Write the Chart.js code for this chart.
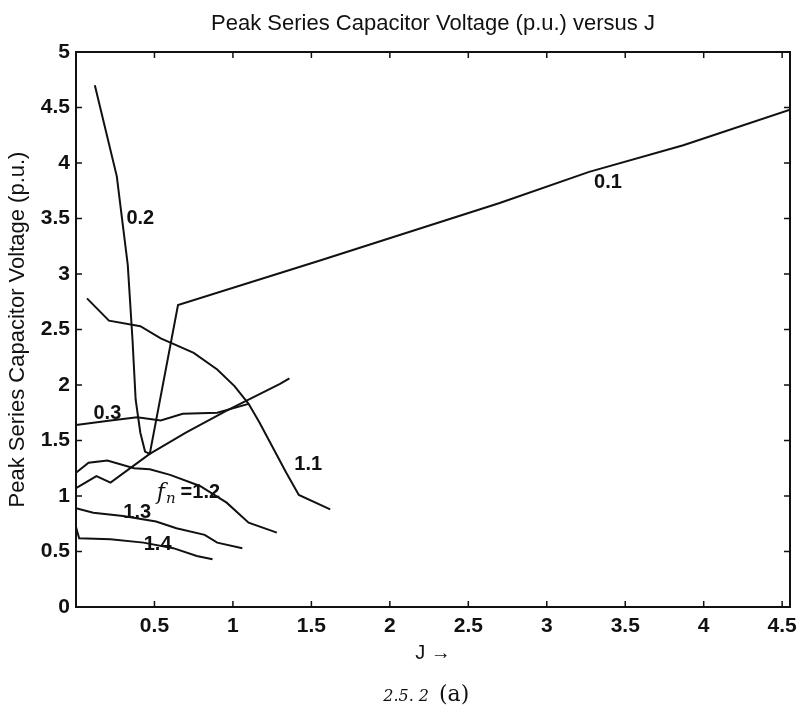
<!DOCTYPE html>
<html>
<head>
<meta charset="utf-8">
<title>Peak Series Capacitor Voltage versus J</title>
<script src="https://cdn.jsdelivr.net/npm/chart.js@4"></script>
<style>
  html, body { margin: 0; padding: 0; background: #fff; }
  canvas { display: block; }
</style>
</head>
<body>
<canvas id="capChart" width="805" height="721"></canvas>
<script>
/* Peak series capacitor voltage (p.u.) against J, one curve per fn */

// curve J / V values
const j01 = [0, 0.06, 0.13, 0.22, 0.47, 0.65, 1.55, 2.70, 3.27, 3.87, 4.55];
const v01 = [1.07, 1.12, 1.18, 1.12, 1.38, 2.72, 3.12, 3.64, 3.92, 4.16, 4.48];

const j02 = [0.12, 0.26, 0.33, 0.36, 0.38, 0.41, 0.44, 0.47, 0.70, 0.96, 1.30, 1.36];
const v02 = [4.70, 3.88, 3.08, 2.41, 1.87, 1.57, 1.40, 1.38, 1.57, 1.77, 2.01, 2.06];

const j03 = [0, 0.22, 0.39, 0.54, 0.68, 0.90, 1.10];
const v03 = [1.64, 1.68, 1.71, 1.68, 1.74, 1.75, 1.83];

const j11 = [0.07, 0.21, 0.41, 0.54, 0.62, 0.75, 0.90, 1.01, 1.10, 1.17, 1.34, 1.42, 1.62];
const v11 = [2.78, 2.58, 2.53, 2.42, 2.37, 2.29, 2.14, 1.99, 1.83, 1.66, 1.21, 1.01, 0.88];

const j12 = [0, 0.08, 0.20, 0.37, 0.47, 0.60, 0.79, 0.96, 1.10, 1.28];
const v12 = [1.21, 1.30, 1.32, 1.25, 1.24, 1.19, 1.09, 0.94, 0.76, 0.67];

const j13 = [0, 0.11, 0.30, 0.51, 0.64, 0.82, 0.90, 1.06];
const v13 = [0.89, 0.85, 0.82, 0.77, 0.71, 0.65, 0.58, 0.53];

const j14 = [0, 0.02, 0.22, 0.43, 0.62, 0.77, 0.87];
const v14 = [0.72, 0.62, 0.61, 0.58, 0.53, 0.46, 0.43];

// in-plot curve labels (text centred on J / V)
const curveNames = ['0.1', '0.2', '0.3', '1.1', '1.3', '1.4'];
const nameJ      = [3.39, 0.41, 0.20, 1.48, 0.39, 0.52];
const nameV      = [3.82, 3.50, 1.74, 1.28, 0.85, 0.56];

// the fn = 1.2 label is written out as "f_n =1.2"
const fnLabel = '=1.2';
const fnLabelJ = 0.515;
const fnLabelV = 1.02;

// axes
const jMax = 4.55;
const vMax = 5;
const tickStep = 0.5;

const titleText = 'Peak Series Capacitor Voltage (p.u.) versus J';

const FONT = '"Liberation Sans", Arial, Helvetica, sans-serif';
const SERIF = '"DejaVu Serif", "Liberation Serif", serif';
const INK = '#111';

const pts = (js, vs) => js.map((j, i) => ({ x: j, y: vs[i] }));
const curve = (label, js, vs) => ({
  label,
  data: pts(js, vs),
  borderColor: INK,
  borderWidth: 2,
  pointRadius: 0,
  tension: 0,
  fill: false,
});

// title over the axes box, frame, inward ticks, curve labels and caption
const decorations = {
  id: 'decorations',
  afterDraw(chart) {
    const { ctx, chartArea: a, scales: { x, y } } = chart;
    const cx = (a.left + a.right) / 2;
    ctx.save();
    ctx.fillStyle = INK;
    ctx.textAlign = 'center';
    ctx.textBaseline = 'middle';
    ctx.font = '22px ' + FONT;
    ctx.fillText(titleText, cx, 24);

    ctx.strokeStyle = INK;
    ctx.lineWidth = 2;
    ctx.strokeRect(a.left, a.top, a.right - a.left, a.bottom - a.top);

    ctx.lineWidth = 1.5;
    const len = 6;
    for (let v = tickStep; v < jMax; v += tickStep) {
      const px = x.getPixelForValue(v);
      ctx.beginPath();
      ctx.moveTo(px, a.bottom); ctx.lineTo(px, a.bottom - len);
      ctx.moveTo(px, a.top);    ctx.lineTo(px, a.top + len);
      ctx.stroke();
    }
    for (let v = tickStep; v < vMax; v += tickStep) {
      const py = y.getPixelForValue(v);
      ctx.beginPath();
      ctx.moveTo(a.left, py);  ctx.lineTo(a.left + len, py);
      ctx.moveTo(a.right, py); ctx.lineTo(a.right - len, py);
      ctx.stroke();
    }

    ctx.font = 'bold 20px ' + FONT;
    curveNames.forEach((t, i) => {
      ctx.fillText(t, x.getPixelForValue(nameJ[i]), y.getPixelForValue(nameV[i]));
    });

    // f_n =1.2
    let fx = x.getPixelForValue(fnLabelJ);
    const fy = y.getPixelForValue(fnLabelV);
    ctx.textAlign = 'left';
    ctx.font = 'italic 22px ' + SERIF;
    ctx.fillText('f', fx, fy);
    fx += ctx.measureText('f').width + 1;
    ctx.font = 'italic 15px ' + SERIF;
    ctx.fillText('n', fx, fy + 5);
    fx += ctx.measureText('n').width + 5;
    ctx.font = 'bold 20px ' + FONT;
    ctx.fillText(fnLabel, fx, fy - 1);

    // figure caption under the axis title
    ctx.textAlign = 'right';
    ctx.font = 'italic 16px ' + SERIF;
    ctx.fillText('2.5. 2', cx - 4, 697);
    ctx.textAlign = 'left';
    ctx.font = '22px ' + SERIF;
    ctx.fillText('(a)', cx + 6, 695);
    ctx.restore();
  },
};

new Chart(document.getElementById('capChart'), {
  type: 'line',
  data: {
    datasets: [
      curve('0.1', j01, v01),
      curve('0.2', j02, v02),
      curve('0.3', j03, v03),
      curve('1.1', j11, v11),
      curve('1.2', j12, v12),
      curve('1.3', j13, v13),
      curve('1.4', j14, v14),
    ],
  },
  options: {
    responsive: false,
    animation: false,
    events: [],
    layout: { padding: { left: 0, right: 15, top: 52, bottom: 0 } },
    plugins: {
      legend: { display: false },
      tooltip: { enabled: false },
      title: { display: false },
    },
    scales: {
      x: {
        type: 'linear',
        min: 0,
        max: jMax,
        grid: { display: false, drawTicks: false },
        border: { display: false },
        ticks: {
          stepSize: tickStep,
          includeBounds: false,
          padding: 7,
          color: INK,
          font: { family: FONT, size: 21, weight: 'bold' },
          callback: v => (v === 0 ? '' : String(v)),
        },
        title: {
          display: true,
          text: 'J \u2192',
          color: INK,
          font: { family: FONT, size: 20 },
          padding: { top: 0, bottom: 56 },
        },
        afterFit: s => { s.height = 114; },
      },
      y: {
        type: 'linear',
        min: 0,
        max: vMax,
        grid: { display: false, drawTicks: false },
        border: { display: false },
        ticks: {
          stepSize: tickStep,
          padding: 6,
          color: INK,
          font: { family: FONT, size: 21, weight: 'bold' },
          callback: v => String(v),
        },
        title: {
          display: true,
          text: 'Peak Series Capacitor Voltage (p.u.)',
          color: INK,
          font: { family: FONT, size: 22 },
          padding: { top: 5, bottom: 0 },
        },
        afterFit: s => { s.width = 76; },
      },
    },
  },
  plugins: [decorations],
});
</script>
</body>
</html>
